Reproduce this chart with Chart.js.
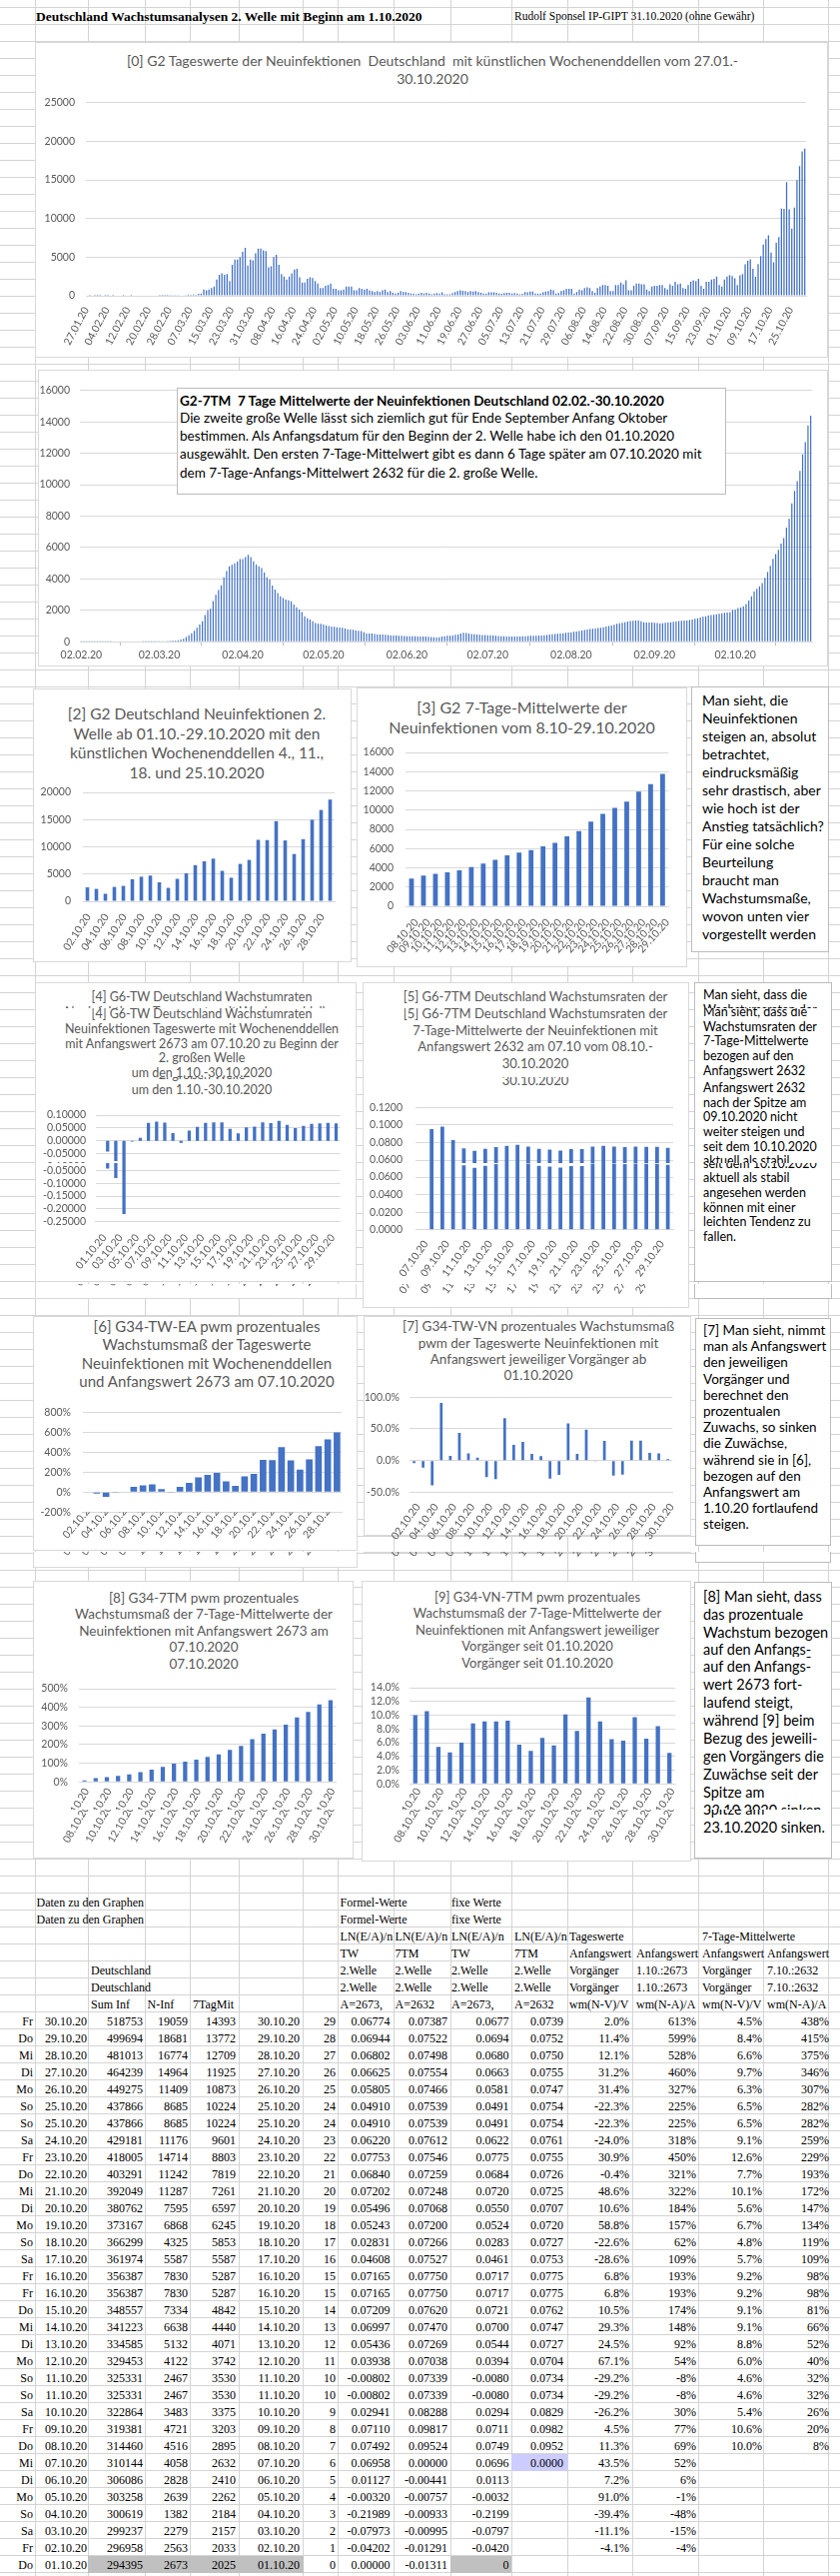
<!DOCTYPE html>
<html lang="de">
<head>
<meta charset="utf-8">
<title>Deutschland Wachstumsanalysen 2. Welle</title>
<script src="https://cdn.jsdelivr.net/npm/chart.js@4.4.1/dist/chart.umd.min.js"></script>
<style>
  html, body { margin: 0; padding: 0; background: #fff; }
  #sheet { position: relative; width: 841px; height: 2578px; overflow: hidden; background: #fff; }
  .win { position: absolute; left: 0; width: 841px; overflow: hidden; }
  .nat { position: absolute; left: 0; width: 841px;
         background-image: linear-gradient(to bottom, transparent 16px, #d4d4d4 16px);
         background-size: 100% 17px; background-position: 0 -9px; }
  .vl { position: absolute; top: 0; width: 1px; background: #d4d4d4; }
  .box { position: absolute; box-sizing: border-box; background: #fff; }
  .cb { border: 1px solid #d9d9d9; }
  .tb { border: 1px solid #bcbcbc; }
  .t { position: absolute; white-space: pre; line-height: 1.2; }
  .l { transform: translateY(-50%); }
  .c { transform: translate(-50%, -50%); }
  .r { transform: translate(-100%, -50%); }
  .ttl { font-family: Lato, 'Noto Sans', sans-serif; color: #595959; }
  .note { font-family: Lato, 'Noto Sans', sans-serif; color: #000; }
  .xl { font-family: 'Liberation Serif', 'Times New Roman', serif; color: #000; font-size: 12px; }
  canvas { position: absolute; }
</style>
</head>
<body>
<div id="sheet"></div>
<script>
// Tageswerte Neuinfektionen 27.01.-30.10.2020 (Grafik [0])
const tagJan = [0, 1, 0, 1, 1];
const tagFeb = [1, 0, 1, 1, 0, 1, 0, 0, 0, 2, 0, 0, 1, 0, 0, 0, 0, 0, 0, 0, 0, 0, 0, 1, 2, 4, 15, 20, 30];
const tagMar = [40, 30, 50, 70, 110, 150, 120, 170, 120, 250, 300, 800, 700, 800, 1000, 1200, 2100, 2700, 2900, 2700,
  2800, 1900, 4000, 4700, 4700, 5000, 5700, 6200, 3900, 4700, 4600];
const tagApr = [5500, 6100, 6100, 5900, 5800, 3700, 3800, 5000, 5300, 4000, 2800, 2500, 2100, 2500, 2900, 3400, 3500,
  2400, 1700, 1700, 2200, 2400, 2300, 1900, 1600, 1000, 1000, 1300, 1400, 1600];
const tagMai = [900, 900, 700, 700, 800, 1200, 1200, 1200, 700, 700, 1000, 900, 800, 900, 700, 600, 500, 600, 500, 700,
  800, 500, 600, 400, 300, 400, 600, 500, 500, 400, 300];
const tagJun = [300, 200, 300, 400, 300, 400, 300, 200, 300, 350, 300, 450, 200, 200, 200, 350, 500, 600, 700, 650, 600,
  500, 600, 550, 600, 500, 400, 300, 250, 450];
const tagJul = [450, 450, 400, 300, 250, 350, 400, 400, 300, 350, 300, 200, 250, 500, 450, 550, 550, 300, 250, 300, 450,
  550, 600, 800, 700, 300, 350, 600, 700, 900, 900];
const tagAug = [900, 300, 500, 800, 700, 1000, 1100, 1000, 600, 400, 1000, 1200, 1400, 1400, 1300, 600, 600, 1400, 1400,
  1700, 1500, 2000, 700, 700, 1300, 1600, 1600, 1500, 1500, 800, 600];
const tagSep = [1200, 1300, 1300, 1400, 1400, 1000, 800, 1500, 1300, 1800, 1500, 1600, 1000, 900, 1400, 1800, 2000, 1900,
  2200, 1300, 900, 1800, 1800, 2100, 2200, 2500, 1400, 1200, 2100, 2500];
const tagOkt = [2673, 2563, 2279, 1382, 2639, 2828, 4058, 4516, 4721, 3483, 2467, 4122, 5132, 6638, 7334, 7830, 5587,
  4325, 6868, 7595, 11287, 11242, 14714, 11176, 8685, 11409, 14964, 16774, 18681, 19059];
const tageswerte = [].concat(tagJan, tagFeb, tagMar, tagApr, tagMai, tagJun, tagJul, tagAug, tagSep, tagOkt);

// 7-Tage-Mittelwerte 02.02.-30.10.2020 (Grafik G2-7TM)
const mitFeb = [2, 2, 2, 2, 1, 1, 1, 1, 1, 1, 1, 1, 0, 0, 0, 0, 0, 0, 0, 0, 0, 0, 0, 1, 1, 2, 4, 8];
const mitMar = [15, 20, 25, 30, 45, 60, 75, 90, 100, 150, 200, 300, 420, 550, 700, 900, 1100, 1300, 1700, 2000, 2100,
  2600, 3000, 3300, 3600, 4100, 4500, 4800, 4900, 5000, 5100];
const mitApr = [5270, 5270, 5400, 5540, 5400, 5120, 4910, 4800, 4700, 4400, 4100, 3960, 3580, 3320, 3110, 2900, 2790,
  2690, 2650, 2580, 2370, 2200, 2050, 1900, 1630, 1500, 1420, 1300, 1200, 1150];
const mitMai = [1145, 1100, 1040, 1000, 980, 950, 930, 910, 890, 850, 800, 785, 760, 720, 700, 680, 600, 530, 530, 530,
  500, 466, 466, 460, 445, 430, 400, 400, 400, 390, 380];
const mitJun = [370, 360, 355, 350, 345, 340, 340, 335, 330, 318, 300, 285, 275, 290, 330, 360, 380, 390, 400, 445, 466,
  530, 570, 560, 530, 500, 488, 470, 450, 440];
const mitJul = [430, 424, 410, 400, 380, 370, 360, 345, 340, 340, 340, 340, 340, 340, 350, 360, 370, 380, 380, 390, 400,
  400, 420, 440, 470, 488, 500, 510, 530, 550, 570];
const mitAug = [590, 615, 640, 657, 690, 720, 750, 785, 810, 827, 850, 870, 900, 933, 970, 1000, 1040, 1080, 1145, 1180,
  1208, 1250, 1293, 1320, 1335, 1357, 1350, 1300, 1250, 1230, 1230];
const mitSep = [1220, 1210, 1190, 1166, 1180, 1208, 1230, 1250, 1270, 1293, 1320, 1335, 1350, 1357, 1390, 1420, 1460,
  1505, 1550, 1590, 1630, 1675, 1700, 1717, 1750, 1780, 1810, 1844, 1870, 1887];
const mitOkt = [2025, 2033, 2157, 2184, 2262, 2410, 2632, 2895, 3203, 3375, 3530, 3742, 4071, 4440, 4842, 5287, 5587,
  5853, 6245, 6597, 7261, 7819, 8803, 9601, 10224, 10873, 11925, 12709, 13772, 14393];
const mittelwerte = [].concat(mitFeb, mitMar, mitApr, mitMai, mitJun, mitJul, mitAug, mitSep, mitOkt);

// 2. Welle, Grafiken [2] bis [9]
const g2Werte = [2563, 2279, 1382, 2639, 2828, 4058, 4516, 4721, 3483, 2467, 4122, 5132, 6638, 7334, 7830, 5587, 4325,
  6868, 7595, 11287, 11242, 14714, 11176, 8685, 11409, 14964, 16774, 18681];
const g3Werte = [2895, 3203, 3375, 3530, 3742, 4071, 4440, 4842, 5287, 5587, 5853, 6245, 6597, 7261, 7819, 8803, 9601,
  10224, 10873, 11925, 12709, 13772];
const g4Raten = [0.00000, -0.04202, -0.07973, -0.21989, -0.00320, 0.01127, 0.06958, 0.07492, 0.07110, 0.02941, -0.00802,
  0.03938, 0.05436, 0.06997, 0.07209, 0.07165, 0.04608, 0.02831, 0.05243, 0.05496, 0.07202, 0.06840, 0.07753, 0.06220,
  0.04910, 0.05805, 0.06625, 0.06802, 0.06944, 0.06774];
const g5Raten = [0.0000, 0.0952, 0.0982, 0.0829, 0.0734, 0.0704, 0.0727, 0.0747, 0.0762, 0.0775, 0.0753, 0.0727, 0.0720,
  0.0707, 0.0725, 0.0726, 0.0755, 0.0761, 0.0754, 0.0747, 0.0755, 0.0750, 0.0752, 0.0739];
const g6Prozent = [-4, -15, -48, -1, 6, 52, 69, 77, 30, -8, 54, 92, 148, 174, 193, 109, 62, 157, 184, 322, 321, 450, 318,
  225, 327, 460, 528, 599];
const g7Prozent = [-4.1, -11.1, -39.4, 91.0, 7.2, 43.5, 11.3, 4.5, -26.2, -29.2, 67.1, 24.5, 29.3, 10.5, 6.8, -28.6,
  -22.6, 58.8, 10.6, 48.6, -0.4, 30.9, -24.0, -22.3, 31.4, 31.2, 12.1, 11.4, 2.0];
const g8Prozent = [8, 20, 26, 32, 40, 52, 66, 81, 98, 109, 119, 134, 147, 172, 193, 229, 259, 282, 307, 346, 375, 415, 438];
const g9Prozent = [10.0, 10.6, 5.4, 4.6, 6.0, 8.8, 9.1, 9.1, 9.2, 5.7, 4.8, 6.7, 5.6, 10.1, 7.7, 12.6, 9.1, 6.5, 6.3,
  9.7, 6.6, 8.4, 4.5];

// Tabelle "Daten zu den Graphen" (30.10. oben bis 01.10. unten)
const tWoTag = ['Fr', 'Do', 'Mi', 'Di', 'Mo', 'So', 'Sa', 'Fr', 'Do', 'Mi', 'Di', 'Mo', 'So', 'Sa', 'Fr', 'Do', 'Mi', 'Di',
  'Mo', 'So', 'Sa', 'Fr', 'Do', 'Mi', 'Di', 'Mo', 'So', 'Sa', 'Fr', 'Do'];
const tSumInf = [518753, 499694, 481013, 464239, 449275, 437866, 429181, 418005, 403291, 392049, 380762, 373167, 366299,
  361974, 356387, 348557, 341223, 334585, 329453, 325331, 322864, 319381, 314460, 310144, 306086, 303258, 300619,
  299237, 296958, 294395];
const tNInf = [19059, 18681, 16774, 14964, 11409, 8685, 11176, 14714, 11242, 11287, 7595, 6868, 4325, 5587, 7830, 7334,
  6638, 5132, 4122, 2467, 3483, 4721, 4516, 4058, 2828, 2639, 1382, 2279, 2563, 2673];
const t7TagMit = [14393, 13772, 12709, 11925, 10873, 10224, 9601, 8803, 7819, 7261, 6597, 6245, 5853, 5587, 5287, 4842,
  4440, 4071, 3742, 3530, 3375, 3203, 2895, 2632, 2410, 2262, 2184, 2157, 2033, 2025];
const tLnTW = ['0.06774', '0.06944', '0.06802', '0.06625', '0.05805', '0.04910', '0.06220', '0.07753', '0.06840',
  '0.07202', '0.05496', '0.05243', '0.02831', '0.04608', '0.07165', '0.07209', '0.06997', '0.05436', '0.03938',
  '-0.00802', '0.02941', '0.07110', '0.07492', '0.06958', '0.01127', '-0.00320', '-0.21989', '-0.07973', '-0.04202',
  '0.00000'];
const tLn7TM = ['0.07387', '0.07522', '0.07498', '0.07554', '0.07466', '0.07539', '0.07612', '0.07546', '0.07259',
  '0.07248', '0.07068', '0.07200', '0.07266', '0.07527', '0.07750', '0.07620', '0.07470', '0.07269', '0.07038',
  '0.07339', '0.08288', '0.09817', '0.09524', '0.00000', '-0.00441', '-0.00757', '-0.00933', '-0.00995', '-0.01291',
  '-0.01311'];
const tFixTW = ['0.0677', '0.0694', '0.0680', '0.0663', '0.0581', '0.0491', '0.0622', '0.0775', '0.0684', '0.0720',
  '0.0550', '0.0524', '0.0283', '0.0461', '0.0717', '0.0721', '0.0700', '0.0544', '0.0394', '-0.0080', '0.0294',
  '0.0711', '0.0749', '0.0696', '0.0113', '-0.0032', '-0.2199', '-0.0797', '-0.0420', '0'];
const tFix7TM = ['0.0739', '0.0752', '0.0750', '0.0755', '0.0747', '0.0754', '0.0761', '0.0755', '0.0726', '0.0725',
  '0.0707', '0.0720', '0.0727', '0.0753', '0.0775', '0.0762', '0.0747', '0.0727', '0.0704', '0.0734', '0.0829',
  '0.0982', '0.0952', '0.0000', '', '', '', '', '', ''];
const tTwVN = ['2.0%', '11.4%', '12.1%', '31.2%', '31.4%', '-22.3%', '-24.0%', '30.9%', '-0.4%', '48.6%', '10.6%',
  '58.8%', '-22.6%', '-28.6%', '6.8%', '10.5%', '29.3%', '24.5%', '67.1%', '-29.2%', '-26.2%', '4.5%', '11.3%',
  '43.5%', '7.2%', '91.0%', '-39.4%', '-11.1%', '-4.1%', ''];
const tTwEA = ['613%', '599%', '528%', '460%', '327%', '225%', '318%', '450%', '321%', '322%', '184%', '157%', '62%',
  '109%', '193%', '174%', '148%', '92%', '54%', '-8%', '30%', '77%', '69%', '52%', '6%', '-1%', '-48%', '-15%', '-4%', ''];
const tMitVN = ['4.5%', '8.4%', '6.6%', '9.7%', '6.3%', '6.5%', '9.1%', '12.6%', '7.7%', '10.1%', '5.6%', '6.7%',
  '4.8%', '5.7%', '9.2%', '9.1%', '9.1%', '8.8%', '6.0%', '4.6%', '5.4%', '10.6%', '10.0%', '', '', '', '', '', '', ''];
const tMitEA = ['438%', '415%', '375%', '346%', '307%', '282%', '259%', '229%', '193%', '172%', '147%', '134%', '119%',
  '109%', '98%', '81%', '66%', '52%', '40%', '32%', '26%', '20%', '8%', '', '', '', '', '', '', ''];

// Die Vorlage ist ein zusammengesetzter Screenshot: an diesen Stellen wiederholt sich ein 17px-Streifen
const CUTS = [1009, 1078, 1164, 1285, 1553, 1658, 1811, 1912, 1980, 2116, 2286, 2388];
const DUP = 17;
const HOEHE = 2578;
const N = y => y - DUP * CUTS.filter(c => c <= y).length;

function tage(tag, monat, anzahl) {
  const d = new Date(2020, monat - 1, tag);
  const out = [];
  for (let i = 0; i < anzahl; i++) {
    out.push(String(d.getDate()).padStart(2, '0') + '.' + String(d.getMonth() + 1).padStart(2, '0') + '.20');
    d.setDate(d.getDate() + 1);
  }
  return out;
}

const items = [];
function add(y0, y1, make) { items.push({ y0, y1, make }); }
function el(tag, cls) { const e = document.createElement(tag); if (cls) e.className = cls; return e; }

function rect(x0, y0, x1, y1, cls, bg) {
  add(y0, y1, p => {
    const d = el('div', 'box ' + (cls || ''));
    d.style.cssText = `left:${x0}px;top:${y0}px;width:${x1 - x0}px;height:${y1 - y0}px;` + (bg ? `background:${bg};` : '');
    p.appendChild(d);
  });
}
function txt(s, x, y, cls, align, size, extra) {
  if (s === '' || s === undefined) return;
  add(y - 12, y + 12, p => {
    const d = el('div', `t ${align || 'l'} ${cls}`);
    d.textContent = s;
    d.style.left = x + 'px';
    d.style.top = y + 'px';
    if (size) d.style.fontSize = size + 'px';
    if (extra) d.style.cssText += extra;
    p.appendChild(d);
  });
}
function zeilen(lines, x, ys, cls, align, size) {
  lines.forEach((s, i) => txt(s, x, ys[i], cls, align, size, i === 0 && cls === 'note b' ? 'font-weight:700' : ''));
}
const reihe = (y, dy, n) => Array.from({ length: n }, (_, i) => y + i * dy);

function balken(o) {
  const zeige = o.show || ((i) => i % (o.every || 1) === 0);
  return () => ({
    type: 'bar',
    data: {
      labels: o.labels,
      datasets: [{ data: o.data, backgroundColor: '#4472c4', barPercentage: o.bp, categoryPercentage: 1 }]
    },
    options: {
      responsive: false,
      animation: false,
      events: [],
      layout: { padding: { top: o.pt, right: o.pr, left: 0, bottom: 0 } },
      plugins: { legend: { display: false }, tooltip: { enabled: false } },
      scales: {
        x: {
          grid: o.xticks
            ? { display: true, drawOnChartArea: false, drawTicks: true, tickLength: 4, color: '#bfbfbf' }
            : { display: false, drawTicks: false },
          border: { display: true, color: '#d9d9d9' },
          ticks: {
            autoSkip: false, minRotation: o.rot, maxRotation: o.rot, padding: o.xpad, labelOffset: o.lo || 0,
            color: '#595959', font: { family: 'Lato', size: 10.5 },
            callback: function (v, i) {
              const l = this.getLabelForValue(v);
              return zeige(i, l) ? l : null;
            }
          },
          afterFit: s => { s.height = o.xh; }
        },
        y: {
          min: o.min, max: o.max,
          grid: { color: '#d9d9d9', drawTicks: false },
          border: { display: false },
          ticks: {
            stepSize: o.step, autoSkip: false, padding: o.ypad,
            color: '#595959', font: { family: 'Lato', size: 10.5 },
            callback: v => o.fmt(Math.abs(v) < 1e-9 ? 0 : v)
          },
          afterFit: s => { s.width = o.yw; }
        }
      }
    }
  });
}

// plot = [links, oben, rechts, unten] der Zeichenfläche; oben wird Platz für die halbe Beschriftung gelassen
function diagramm(x0, x1, y1, plot, o) {
  const y0 = Math.floor(plot[1] - o.ypad - 9);
  y1 = Math.round(y1);
  Object.assign(o, { yw: plot[0] - x0, pt: plot[1] - y0, pr: x1 - plot[2], xh: y1 - plot[3] });
  const cfg = balken(o);
  add(y0, y1, p => {
    const c = el('canvas');
    c.width = x1 - x0; c.height = y1 - y0;
    c.style.left = x0 + 'px'; c.style.top = y0 + 'px';
    p.appendChild(c);
    new Chart(c, cfg());
  });
}

const ganz = v => String(v);
const proz0 = v => v + '%';
const proz1 = v => v.toFixed(1) + '%';

// ---------- Kopfzeile ----------
const NAT_H = HOEHE - DUP * CUTS.length;
[35, 88, 145, 190, 239, 303, 338, 394, 451, 512, 568, 633, 699, 764, 829].forEach(x => {
  add(0, NAT_H, p => { const d = el('div', 'vl'); d.style.left = x + 'px'; d.style.height = NAT_H + 'px'; p.appendChild(d); });
});
txt('Deutschland Wachstumsanalysen 2. Welle mit Beginn am 1.10.2020', 36, 16.5, 'xl', 'l', 13.5, 'font-weight:700');
txt('Rudolf Sponsel IP-GIPT 31.10.2020 (ohne Gewähr)', 515, 17, 'xl', 'l', 11.5);

// ---------- [0] Tageswerte ----------
rect(35, 42, 829, 358, 'cb');
zeilen(['[0] G2 Tageswerte der Neuinfektionen  Deutschland  mit künstlichen Wochenenddellen vom 27.01.-', '30.10.2020'],
  433, [61, 79], 'ttl', 'c', 14);
diagramm(38, 815, 352, [86, 102.7, 807, 296], {
  labels: tage(27, 1, 278), data: tageswerte, min: 0, max: 25000, step: 5000, fmt: ganz,
  rot: 62, xpad: 9, lo: -1, ypad: 11, bp: 0.5, every: 8
});

// ---------- G2-7TM ----------
rect(38, 370, 829, 667, 'cb');
diagramm(36, 818, 664, [80, 390.7, 813, 642.3], {
  labels: tage(2, 2, 272), data: mittelwerte, min: 0, max: 16000, step: 2000, fmt: ganz,
  rot: 0, xpad: 3, ypad: 10, bp: 0.45, xticks: true, show: (i, l) => l.startsWith('02.')
});
rect(177, 388, 727, 495, 'tb');
zeilen(['G2-7TM  7 Tage Mittelwerte der Neuinfektionen Deutschland 02.02.-30.10.2020',
  'Die zweite große Welle lässt sich ziemlich gut für Ende September Anfang Oktober',
  'bestimmen. Als Anfangsdatum für den Beginn der 2. Welle habe ich den 01.10.2020',
  'ausgewählt. Den ersten 7-Tage-Mittelwert gibt es dann 6 Tage später am 07.10.2020 mit',
  'dem 7-Tage-Anfangs-Mittelwert 2632 für die 2. große Welle.'], 180, [401, 418.3, 436, 454.3, 472.7], 'note b', 'l', 13.5);

// ---------- [2] und [3] ----------
rect(33, 689, 352, 963, 'cb');
zeilen(['[2] G2 Deutschland Neuinfektionen 2.', 'Welle ab 01.10.-29.10.2020 mit den',
  'künstlichen Wochenenddellen 4., 11.,', '18. und 25.10.2020'], 197, [714, 734, 753, 773], 'ttl', 'c', 15.5);
diagramm(36, 345, 958, [83, 793, 335, 902], {
  labels: tage(2, 10, 28), data: g2Werte, min: 0, max: 20000, step: 5000, fmt: ganz,
  rot: 57, xpad: 10, lo: 1, ypad: 12, bp: 0.4, every: 2
});
rect(357, 688, 688, 968, 'cb');
zeilen(['[3] G2 7-Tage-Mittelwerte der', 'Neuinfektionen vom 8.10-29.10.2020'], 522.5, [708, 728], 'ttl', 'c', 16);
diagramm(362, 683, 962, [406, 753, 673, 907], {
  labels: tage(8, 10, 22), data: g3Werte, min: 0, max: 16000, step: 2000, fmt: ganz,
  rot: 48, xpad: 10, lo: 5, ypad: 12, bp: 0.4, every: 1
});
rect(692, 687, 830, 953, 'tb');
zeilen(['Man sieht, die', 'Neuinfektionen', 'steigen an, absolut', 'betrachtet,', 'eindrucksmäßig',
  'sehr drastisch, aber', 'wie hoch ist der', 'Anstieg tatsächlich?', 'Für eine solche', 'Beurteilung',
  'braucht man', 'Wachstumsmaße,', 'wovon unten vier', 'vorgestellt werden'], 703, reihe(701, 18, 14), 'note', 'l', 14);

// ---------- [4] und [5] ----------
rect(35, 983, 357, N(1300), 'cb');
zeilen(['[4] G6-TW Deutschland Wachstumraten', 'Neuinfektionen Tageswerte mit Wochenenddellen',
  'mit Anfangswert 2673 am 07.10.20 zu Beginn der', '2. großen Welle', 'um den 1.10.-30.10.2020'],
  202, [997.3, N(1029), N(1044), N(1058.3), N(1073.3)], 'ttl', 'c', 12.5);
diagramm(38, 350, N(1280), [95.5, N(1116), 340.6, N(1222.7)], {
  labels: tage(1, 10, 30), data: g4Raten, min: -0.25, max: 0.1, step: 0.05, fmt: v => v.toFixed(5),
  rot: 50, xpad: 10, lo: 5, ypad: 9.5, bp: 0.4, every: 2
});
rect(363, 983, 690, N(1309), 'cb');
zeilen(['[5] G6-7TM Deutschland Wachstumsraten der', '7-Tage-Mittelwerte der Neuinfektionen mit',
  'Anfangswert 2632 am 07.10 vom 08.10.-', '30.10.2020'], 536, [998.3, N(1031.7), N(1047.7), N(1065)], 'ttl', 'c', 13);
diagramm(368, 684, 1234, [416, N(1108.3), 674, N(1230.7)], {
  labels: tage(7, 10, 24), data: g5Raten, min: 0, max: 0.12, step: 0.02, fmt: v => v.toFixed(4),
  rot: 54, xpad: 8.5, lo: 5, ypad: 13, bp: 0.35, every: 2
});
rect(695, 983, 833, N(1300), 'tb');
zeilen(['Man sieht, dass die', 'Wachstumsraten der', '7-Tage-Mittelwerte', 'bezogen auf den', 'Anfangswert 2632',
  'nach der Spitze am', '09.10.2020 nicht', 'weiter steigen und', 'seit dem 10.10.2020', 'aktuell als stabil',
  'angesehen werden', 'können mit einer', 'leichten Tendenz zu', 'fallen.'], 704, reihe(995, 14.7, 14), 'note', 'l', 12.5);

// ---------- [6] und [7] ----------
rect(33, N(1316.7), 358, N(1552.3), 'cb');
zeilen(['[6] G34-TW-EA pwm prozentuales', 'Wachstumsmaß der Tageswerte', 'Neuinfektionen mit Wochenenddellen',
  'und Anfangswert 2673 am 07.10.2020'], 207, reihe(N(1327.3), 18.1, 4), 'ttl', 'c', 15);
diagramm(36, 352, N(1548), [83, N(1413.3), 342, N(1513.3)], {
  labels: tage(2, 10, 28), data: g6Prozent, min: -200, max: 800, step: 200, fmt: proz0,
  rot: 50, xpad: -11, lo: 4, ypad: 12, bp: 0.72, every: 2
});
rect(364, N(1316.7), 692, N(1554), 'cb');
zeilen(['[7] G34-TW-VN prozentuales Wachstumsmaß', 'pwm der Tageswerte Neuinfektionen mit',
  'Anfangswert jeweiliger Vorgänger ab', '01.10.2020'], 539, reihe(N(1327.3), 16.2, 4), 'ttl', 'c', 13.5);
diagramm(362, 688, N(1548), [410, N(1398.3), 679, N(1493.3)], {
  labels: tage(2, 10, 29), data: g7Prozent, min: -50, max: 100, step: 50, fmt: proz1,
  rot: 54, xpad: 9, lo: 4, ypad: 10, bp: 0.3, every: 2
});
rect(696, N(1319), 832, N(1546.7), 'tb');
zeilen(['[7] Man sieht, nimmt', 'man als Anfangswert', 'den jeweiligen', 'Vorgänger und', 'berechnet den',
  'prozentualen', 'Zuwachs, so sinken', 'die Zuwächse,', 'während sie in [6],', 'bezogen auf den',
  'Anfangswert am', '1.10.20 fortlaufend', 'steigen.'], 704, reihe(N(1331), 16.2, 13), 'note', 'l', 13.5);

// ---------- [8] und [9] ----------
rect(33, N(1582), 354, N(1860), 'cb');
zeilen(['[8] G34-7TM pwm prozentuales', 'Wachstumsmaß der 7-Tage-Mittelwerte der',
  'Neuinfektionen mit Anfangswert 2673 am', '07.10.2020'], 204, reihe(N(1599), 16.4, 4), 'ttl', 'c', 13.5);
diagramm(34, 346, 1738, [79, N(1690), 338, N(1783.3)], {
  labels: tage(8, 10, 23), data: g8Prozent, min: 0, max: 500, step: 100, fmt: proz0,
  rot: 60, xpad: 4, lo: 2, ypad: 11, bp: 0.38, every: 2
});
rect(362, N(1582), 692, N(1863), 'cb');
zeilen(['[9] G34-VN-7TM pwm prozentuales', 'Wachstumsmaß der 7-Tage-Mittelwerte der',
  'Neuinfektionen mit Anfangswert jeweiliger', 'Vorgänger seit 01.10.2020'], 538, reihe(N(1599), 16.4, 4), 'ttl', 'c', 13);
diagramm(362, 686, 1740, [410, N(1689), 676, N(1785.3)], {
  labels: tage(8, 10, 23), data: g9Prozent, min: 0, max: 14, step: 2, fmt: proz1,
  rot: 58, xpad: 2, lo: 3, ypad: 10, bp: 0.37, every: 2
});
rect(695, N(1583), 833, N(1860), 'tb');
zeilen(['[8] Man sieht, dass', 'das prozentuale', 'Wachstum bezogen', 'auf den Anfangs-', 'wert 2673 fort-',
  'laufend steigt,', 'während [9] beim', 'Bezug des jeweili-', 'gen Vorgängers die', 'Zuwächse seit der',
  'Spitze am', '23.10.2020 sinken.'], 704, reihe(N(1597.7), 17.9, 12), 'note', 'l', 14.5);

// ---------- Tabelle ----------
const yDaten = N(1904), yLN = N(1938), yTW = N(1955), yDe = N(1971.7), ySum = N(2005.7), y0 = N(2022.7);
txt('Daten zu den Graphen', 36.5, yDaten, 'xl');
txt('Formel-Werte', 340.5, yDaten, 'xl');
txt('fixe Werte', 452, yDaten, 'xl');
[340.5, 395.5, 452, 515].forEach((x, i) => {
  txt('LN(E/A)/n', x, yLN, 'xl');
  txt(['TW', '7TM', 'TW', '7TM'][i], x, yTW, 'xl');
  txt('2.Welle', x, yDe, 'xl');
  txt(['A=2673,', 'A=2632', 'A=2673,', 'A=2632'][i], x, ySum, 'xl');
});
txt('Tageswerte', 570, yLN, 'xl');
txt('7-Tage-Mittelwerte', 703, yLN, 'xl');
[570, 637, 703, 768].forEach((x, i) => {
  txt('Anfangswert', x, yTW, 'xl');
  txt(['Vorgänger', '1.10.:2673', 'Vorgänger', '7.10.:2632'][i], x, yDe, 'xl');
  txt(['wm(N-V)/V', 'wm(N-A)/A', 'wm(N-V)/V', 'wm(N-A)/A'][i], x, ySum, 'xl');
});
txt('Deutschland', 91, yDe, 'xl');
txt('Sum Inf', 91, ySum, 'xl');
txt('N-Inf', 147.5, ySum, 'xl');
txt('7TagMit', 193, ySum, 'xl');

const datum = tage(1, 10, 30).reverse();
const zeilenY = i => y0 + 17 * i;
rect(88, zeilenY(29) - 8.5, 304, zeilenY(29) + 8.5, '', '#c0c0c0');
rect(451, zeilenY(29) - 8.5, 512, zeilenY(29) + 8.5, '', '#c0c0c0');
rect(512, zeilenY(23) - 8.5, 568, zeilenY(23) + 8.5, '', '#ccccff');
const spalten = [
  [33, tWoTag], [87, datum], [143, tSumInf], [188, tNInf], [236, t7TagMit], [300, datum],
  [336, datum.map((_, i) => 29 - i)], [390.5, tLnTW], [448, tLn7TM], [509.5, tFixTW], [564, tFix7TM],
  [630, tTwVN], [697, tTwEA], [763, tMitVN], [830, tMitEA]
];
for (let i = 0; i < 30; i++) {
  spalten.forEach(([x, werte]) => txt(String(werte[i]), x, zeilenY(i), 'xl', 'r'));
}

// ---------- Fenster zusammensetzen ----------
const sheet = document.getElementById('sheet');
const kanten = [0, ...CUTS, HOEHE];
for (let i = 0; i < kanten.length - 1; i++) {
  const a = kanten[i], b = kanten[i + 1];
  const win = el('div', 'win');
  win.style.top = a + 'px';
  win.style.height = (b - a) + 'px';
  const lo = a - i * DUP, hi = lo + (b - a);
  const nat = el('div', 'nat');
  nat.style.top = -lo + 'px';
  nat.style.height = NAT_H + 'px';
  win.appendChild(nat);
  sheet.appendChild(win);
  items.forEach(it => { if (it.y1 > lo && it.y0 < hi) it.make(nat); });
}
</script>
</body>
</html>
